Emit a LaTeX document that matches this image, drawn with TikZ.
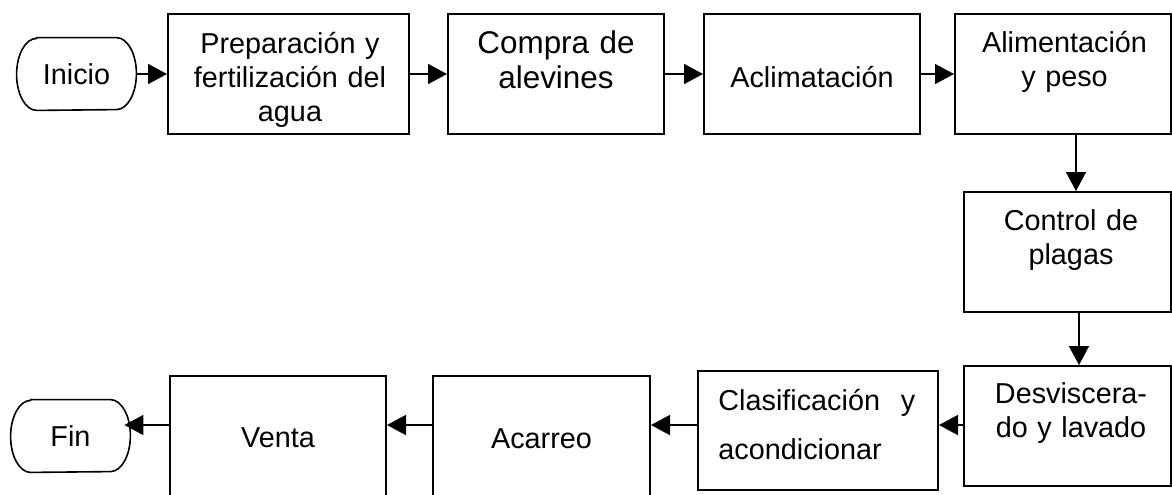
\documentclass[tikz,border=0pt]{standalone}
\usepackage{fontspec}
\setmainfont{Liberation Sans}
\usetikzlibrary{arrows.meta}
\begin{document}
\begin{tikzpicture}[x=0.5pt,y=-0.5pt,
  box/.style={draw, line width=1pt, inner sep=0pt},
  lbl/.style={font=\fontsize{14.4pt}{17pt}\selectfont, inner sep=0pt, anchor=base, align=center},
  term/.style={inner sep=0pt, minimum width=59.5pt, minimum height=36pt, font=\fontsize{14.4pt}{17pt}\selectfont},
  termline/.style={line width=0.8pt},
  arr/.style={line width=0.8pt, -{Triangle[length=9.5pt,width=10pt]}}]
\useasboundingbox (0,0) rectangle (1172,494);

% terminators
\node[term] (inicio) at (76.5,74) {Inicio};
\draw[termline] ([xshift=10pt]inicio.north west) -- ([xshift=-10pt]inicio.north east)
  arc[start angle=-90,end angle=90,x radius=20,y radius=36]
  -- ([xshift=10pt]inicio.south west)
  arc[start angle=90,end angle=270,x radius=20,y radius=36] -- cycle;
\node[term] (fin) at (70.5,436) {Fin};
\draw[termline] ([xshift=10pt]fin.north west) -- ([xshift=-10pt]fin.north east)
  arc[start angle=-90,end angle=90,x radius=20,y radius=36]
  -- ([xshift=10pt]fin.south west)
  arc[start angle=90,end angle=270,x radius=20,y radius=36] -- cycle;

% boxes
\node[box, minimum width=120.5pt, minimum height=60pt] (b1) at (288.5,74) {};
\node[box, minimum width=108pt, minimum height=60pt] (b2) at (556,74) {};
\node[box, minimum width=108pt, minimum height=60pt] (b3) at (812,74) {};
\node[box, minimum width=108pt, minimum height=60pt] (b4) at (1063,74) {};
\node[box, minimum width=103.5pt, minimum height=60pt] (b5) at (1067.5,252) {};
\node[box, minimum width=103.5pt, minimum height=60pt] (b6) at (1067.5,426) {};
\node[box, minimum width=120pt, minimum height=59.5pt] (b7) at (818,430.5) {};
\node[box, minimum width=108.5pt, minimum height=61.5pt] (b8) at (541.5,437.5) {};
\node[box, minimum width=108pt, minimum height=61pt] (b9) at (278,437) {};

% texts
\node[lbl, text width=130pt] (t1) at (290,53) {Preparación y\\fertilización del\\agua};
\node[lbl, text width=110pt, font=\fontsize{15.7pt}{17.5pt}\selectfont] (t2) at (556,53) {Compra de\\alevines};
\node[lbl] (t3) at (812,87) {Aclimatación};
\node[lbl, text width=110pt] (t4) at (1064.5,52) {Alimentación\\y peso};
\node[lbl, text width=110pt] (t5) at (1071,230) {Control de\\plagas};
\node[lbl, text width=110pt] (t6) at (1071,403) {Desviscera-\\do y lavado};
\node[lbl, anchor=base west, align=left, text width=100pt, font=\fontsize{14.4pt}{24.5pt}\selectfont] (t7) at (718,410) {\makebox[98.5pt][s]{Clasificación\hfill y}\\acondicionar};
\node[lbl] (t8) at (541.5,448) {Acarreo};
\node[lbl] (t9) at (278,447) {Venta};

% connectors
\coordinate (xa) at (1076,0);
\coordinate (xb) at (1079,0);
\coordinate (yb) at (0,425);
\draw[arr] (inicio.east) -- (b1.west);
\draw[arr] (b1.east) -- (b2.west);
\draw[arr] (b2.east) -- (b3.west);
\draw[arr] (b3.east) -- (b4.west);
\draw[arr] (b4.south -| xa) -- (b5.north -| xa);
\draw[arr] (b5.south -| xb) -- (b6.north -| xb);
\draw[arr] (b6.west |- yb) -- (b7.east |- yb);
\draw[arr] (b7.west |- yb) -- (b8.east |- yb);
\draw[arr] (b8.west |- yb) -- (b9.east |- yb);
\draw[arr, shorten >=-3pt] (b9.west |- yb) -- (fin.east |- yb);
\end{tikzpicture}
\end{document}
